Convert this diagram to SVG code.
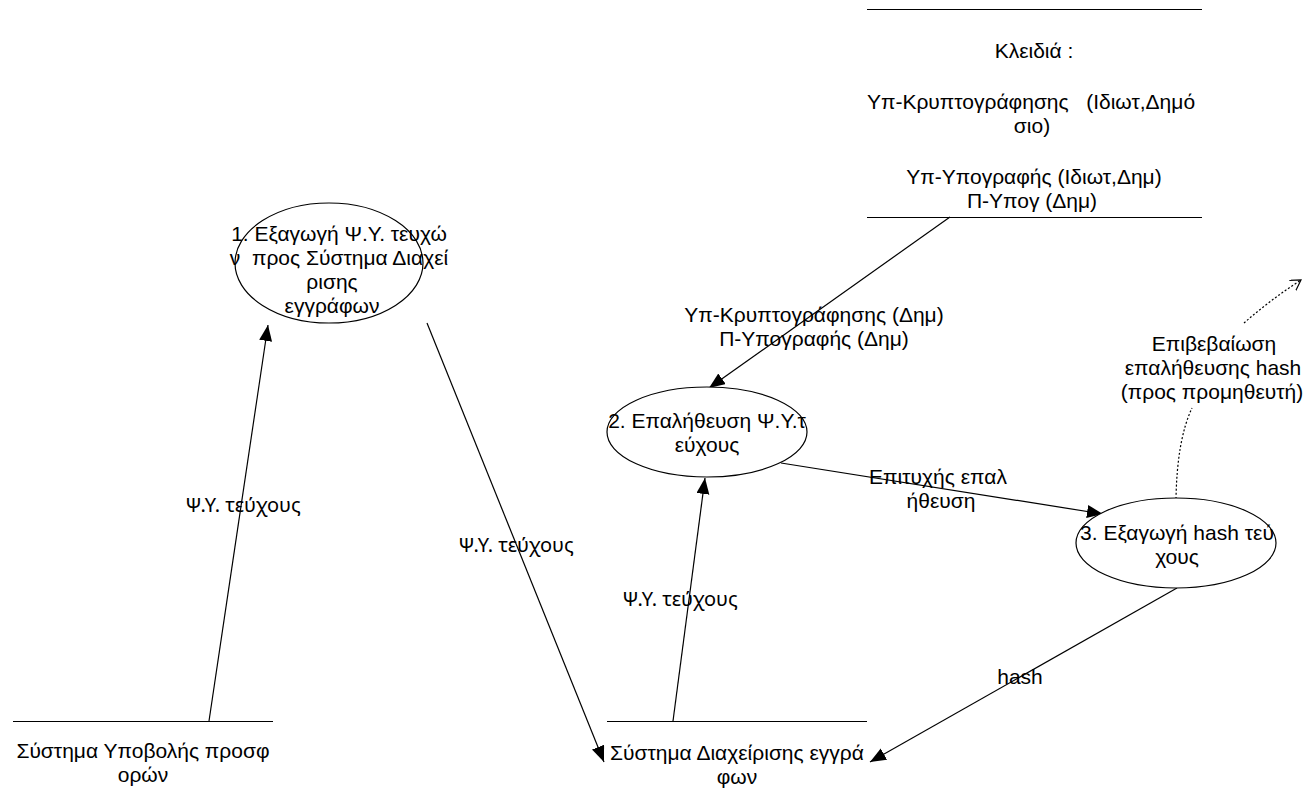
<svg xmlns="http://www.w3.org/2000/svg" width="1305" height="810" viewBox="0 0 1305 810">
<style>
text{font-family:"Liberation Sans",Arial,sans-serif;font-size:21px;fill:#000;text-anchor:middle}
.lbl2{font-family:"Noto Sans","DejaVu Sans",sans-serif;font-size:20px}
.shape{fill:#fff;stroke:#000;stroke-width:1.2}
.store{stroke:#000;stroke-width:1.2;fill:none}
.conn{stroke:#000;stroke-width:1.2;fill:none;marker-end:url(#arr)}
.dash{stroke:#000;stroke-width:1.2;fill:none;stroke-dasharray:2,2}
</style>
<defs>
<marker id="arr" markerUnits="userSpaceOnUse" markerWidth="18" markerHeight="14" refX="16" refY="6.5" orient="auto">
<path d="M0,0 L16,6.5 L0,13 z" fill="#000"/>
</marker>
<marker id="open" markerUnits="userSpaceOnUse" markerWidth="14" markerHeight="14" refX="10" refY="6" orient="auto">
<path d="M0,0 L10,6 L0,12" fill="none" stroke="#000" stroke-width="1.2"/>
</marker>
</defs>
<rect width="1305" height="810" fill="#fff"/>

<g id="connectors">
<line class="conn" x1="209" y1="721" x2="268" y2="325"/>
<line class="conn" x1="427" y1="323" x2="604" y2="762"/>
<line class="conn" x1="673" y1="721" x2="705" y2="478"/>
<line class="conn" x1="950" y1="217" x2="709" y2="388"/>
<line class="conn" x1="781" y1="463" x2="1103" y2="514"/>
<line class="conn" x1="1177" y1="588" x2="870" y2="762"/>
<path class="dash" d="M1176,499 Q1177,440 1192,408"/>
<path class="dash" d="M1244,323 Q1270,300 1301,280" marker-end="url(#open)"/>
<text class="lbl2" x="243" y="512">Ψ.Υ. τεύχους</text>
<text class="lbl2" x="516" y="552">Ψ.Υ. τεύχους</text>
<text class="lbl2" x="680" y="606">Ψ.Υ. τεύχους</text>
<text x="814" y="322">Υπ-Κρυπτογράφησης (Δημ)</text>
<text x="814" y="346">Π-Υπογραφής (Δημ)</text>
<text x="938" y="484">Επιτυχής επαλ</text>
<text x="941" y="508">ήθευση</text>
<text x="1020" y="684">hash</text>
<text x="1214" y="351">Επιβεβαίωση</text>
<text x="1213" y="375">επαλήθευσης hash</text>
<text x="1212" y="399">(προς προμηθευτή)</text>
</g>

<g id="keys-store">
<line class="store" x1="867" y1="9.5" x2="1202" y2="9.5"/>
<line class="store" x1="867" y1="217.5" x2="1202" y2="217.5"/>
<text x="1034" y="58">Κλειδιά :</text>
<text x="1031" y="109" xml:space="preserve">Υπ-Κρυπτογράφησης   (Ιδιωτ,Δημό</text>
<text x="1032" y="133">σιο)</text>
<text x="1034" y="184">Υπ-Υπογραφής (Ιδιωτ,Δημ)</text>
<text x="1032" y="208">Π-Υπογ (Δημ)</text>
</g>

<g id="process1">
<ellipse class="shape" cx="329" cy="263" rx="94" ry="60"/>
<text x="339" y="241">1. Εξαγωγή Ψ.Υ. τευχώ</text>
<text x="339" y="265" xml:space="preserve">ν  προς Σύστημα Διαχεί</text>
<text x="332" y="289">ρισης</text>
<text x="332" y="313">εγγράφων</text>
</g>

<g id="process2">
<ellipse class="shape" cx="707" cy="432" rx="100" ry="45"/>
<text x="707" y="428">2. Επαλήθευση Ψ.Υ.τ</text>
<text x="707" y="452">εύχους</text>
</g>

<g id="process3">
<ellipse class="shape" cx="1176" cy="543" rx="100" ry="45"/>
<text x="1177" y="540">3. Εξαγωγή hash τεύ</text>
<text x="1177" y="564">χους</text>
</g>

<g id="store-submission">
<line class="store" x1="13" y1="721.5" x2="273" y2="721.5"/>
<text x="143" y="758">Σύστημα Υποβολής προσφ</text>
<text x="143" y="782">ορών</text>
</g>

<g id="store-docs">
<line class="store" x1="607" y1="721.5" x2="867" y2="721.5"/>
<text x="737" y="760">Σύστημα Διαχείρισης εγγρά</text>
<text x="737" y="784">φων</text>
</g>
</svg>
